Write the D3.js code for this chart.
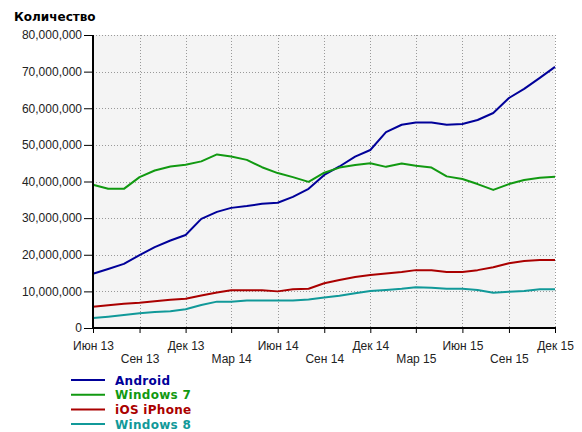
<!DOCTYPE html>
<html><head><meta charset="utf-8">
<script src="https://cdn.jsdelivr.net/npm/d3@7"></script>
<style>
body{margin:0;background:#fff;}
svg{display:block;}
</style></head>
<body><svg id="c" width="582" height="432"></svg>
<script>
const months = ["2013-06","2013-07","2013-08","2013-09","2013-10","2013-11","2013-12",
"2014-01","2014-02","2014-03","2014-04","2014-05","2014-06","2014-07","2014-08","2014-09","2014-10","2014-11","2014-12",
"2015-01","2015-02","2015-03","2015-04","2015-05","2015-06","2015-07","2015-08","2015-09","2015-10","2015-11","2015-12"];
const android = [14.8,16.1,17.5,19.9,22.1,23.9,25.4,29.8,31.7,32.8,33.3,33.9,34.2,35.8,38.0,41.8,44.1,46.8,48.6,53.5,55.5,56.1,56.1,55.5,55.7,56.8,58.7,62.8,65.3,68.3,71.3];
const windows7 = [39.1,38.0,38.0,41.2,43.0,44.1,44.6,45.5,47.4,46.8,45.9,43.9,42.3,41.2,39.9,42.4,43.8,44.5,45.0,44.0,44.9,44.3,43.8,41.4,40.7,39.3,37.7,39.3,40.4,41.0,41.3];
const iosIphone = [5.8,6.2,6.6,6.9,7.3,7.7,8.0,8.9,9.7,10.3,10.3,10.3,10.0,10.6,10.7,12.2,13.1,13.9,14.5,14.9,15.3,15.8,15.8,15.3,15.3,15.8,16.6,17.7,18.3,18.6,18.6];
const windows8 = [2.7,3.1,3.55,4.0,4.4,4.6,5.1,6.3,7.2,7.2,7.5,7.5,7.5,7.5,7.8,8.3,8.8,9.5,10.1,10.4,10.7,11.1,11.0,10.7,10.7,10.4,9.6,9.9,10.1,10.6,10.6];
const seriesNames = ["Android","Windows 7","iOS iPhone","Windows 8"];
const seriesColors = ["#000099","#119911","#aa0000","#119999"];
const yTicks = [0,10000000,20000000,30000000,40000000,50000000,60000000,70000000,80000000];
const xTickLabels = ["Июн 13","Сен 13","Дек 13","Мар 14","Июн 14","Сен 14","Дек 14","Мар 15","Июн 15","Сен 15","Дек 15"];
const yTitle = "Количество";

const svg = d3.select("#c");
const parse = d3.timeParse("%Y-%m");
const dates = months.map(parse);
const L = 93, R = 555, T = 35, B = 328;
const x = d3.scaleTime().domain([dates[0], dates[dates.length-1]]).range([L, R]);
const y = d3.scaleLinear().domain([0, 80000000]).range([B, T]);

svg.append("rect").attr("x", L).attr("y", T).attr("width", R-L).attr("height", B-T).attr("fill", "#f4f4f4");

const xTickDates = dates.filter((d,i)=> i%3===0);

// grid
const grid = svg.append("g").attr("stroke", "#999").attr("stroke-width", 1).attr("stroke-dasharray", "1,2");
grid.selectAll("line.h").data(yTicks.filter(d=>d>0)).join("line")
  .attr("x1", L).attr("x2", R+0.5).attr("y1", d=>Math.round(y(d))+0.5).attr("y2", d=>Math.round(y(d))+0.5);
grid.selectAll("line.v").data(xTickDates.slice(1)).join("line")
  .attr("y1", T).attr("y2", B).attr("x1", d=>Math.round(x(d))+0.5).attr("x2", d=>Math.round(x(d))+0.5);

// lines
const all = [android, windows7, iosIphone, windows8];
const line = d3.line().x((d,i)=>x(dates[i])).y(d=>y(d*1e6));
all.forEach((s,k)=>{
  svg.append("path").datum(s).attr("d", line).attr("fill","none")
    .attr("stroke", seriesColors[k]).attr("stroke-width", 2).attr("stroke-linejoin","round");
});

// y axis
const yAxis = d3.axisLeft(y).tickValues(yTicks).tickFormat(d3.format(",")).tickSize(9).tickPadding(2);
const ya = svg.append("g").attr("transform", `translate(${L},0)`).call(yAxis);
ya.select(".domain").remove();
ya.selectAll("text").attr("font-family","Liberation Sans, Arial, sans-serif").attr("font-size",12).attr("fill","#222");
ya.selectAll("line").attr("stroke","#000");

// x axis
const xAxis = d3.axisBottom(x).tickValues(xTickDates).tickSize(5)
  .tickFormat((d,i) => xTickLabels[i]);
const xa = svg.append("g").attr("transform", `translate(0,${B})`).call(xAxis);
xa.select(".domain").remove();
xa.selectAll("line").attr("stroke","#000");
xa.selectAll("text").attr("font-family","Liberation Sans, Arial, sans-serif").attr("font-size",12).attr("fill","#222")
  .attr("dy", null).attr("y", (d,i)=> i%2===0 ? 22 : 35);

// axis spines
svg.append("line").attr("x1", L).attr("x2", L).attr("y1", T).attr("y2", B+1).attr("stroke","#000").attr("stroke-width",2);
svg.append("line").attr("x1", L-1).attr("x2", R+1).attr("y1", B).attr("y2", B).attr("stroke","#000").attr("stroke-width",2);

// title
svg.append("text").attr("x", 14).attr("y", 21).text(yTitle)
  .attr("font-family","DejaVu Sans, sans-serif").attr("font-weight","bold").attr("font-size",12).attr("fill","#000");

// legend
const lg = svg.append("g");
seriesNames.forEach((n,k)=>{
  const yy = 380 + k*14.7;
  lg.append("line").attr("x1",71).attr("x2",105).attr("y1",yy).attr("y2",yy).attr("stroke",seriesColors[k]).attr("stroke-width",2);
  lg.append("text").attr("x",115).attr("y",yy+4.5).text(n).attr("fill",seriesColors[k])
    .attr("font-family","DejaVu Sans, sans-serif").attr("font-weight","bold").attr("font-size",12).attr("letter-spacing",0.3);
});
</script></body></html>
